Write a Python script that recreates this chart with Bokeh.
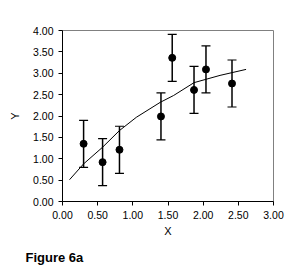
from bokeh.plotting import figure
from bokeh.models import ColumnDataSource, Whisker, TeeHead, Title, NumeralTickFormatter, Range1d
from bokeh.embed import file_html
from bokeh.resources import INLINE

# Data
x_pts = [0.30, 0.57, 0.81, 1.40, 1.56, 1.87, 2.04, 2.41]
y_pts = [1.35, 0.92, 1.21, 1.99, 3.36, 2.61, 3.09, 2.76]
y_err = [0.55, 0.55, 0.55, 0.55, 0.55, 0.55, 0.55, 0.55]

curve_x = [0.10, 0.30, 0.57, 0.81, 1.05, 1.39, 1.58, 1.87, 2.24, 2.61]
curve_y = [0.51, 0.88, 1.27, 1.66, 1.97, 2.32, 2.48, 2.78, 2.95, 3.09]

x_ticks = [0.0, 0.5, 1.0, 1.5, 2.0, 2.5, 3.0]
y_ticks = [0.0, 0.5, 1.0, 1.5, 2.0, 2.5, 3.0, 3.5, 4.0]

FONT = "Liberation Sans"

p = figure(width=306, height=272, output_backend="svg", toolbar_location=None,
           x_range=Range1d(0, 3), y_range=Range1d(0, 4),
           min_border_left=62, min_border_right=33, min_border_top=30, min_border_bottom=71)
p.background_fill_color = "white"
p.border_fill_color = "white"
p.outline_line_color = "#808080"
p.outline_line_width = 1
p.xgrid.visible = False
p.ygrid.visible = False

for ax in (p.xaxis, p.yaxis):
    ax.axis_line_color = "black"
    ax.major_tick_line_color = "black"
    ax.major_tick_out = 4
    ax.major_tick_in = 0
    ax.minor_tick_line_color = None
    ax.major_label_text_font = FONT
    ax.major_label_text_font_size = "10.5px"
    ax.major_label_text_color = "black"
    ax.axis_label_text_font = FONT
    ax.axis_label_text_font_size = "11px"
    ax.axis_label_text_font_style = "normal"
    ax.axis_label_text_color = "black"
    ax.formatter = NumeralTickFormatter(format="0.00")

p.xaxis.ticker = x_ticks
p.yaxis.ticker = y_ticks
p.xaxis.axis_label = "X"
p.yaxis.axis_label = "Y"
p.xaxis.axis_label_standoff = 3
p.yaxis.axis_label_standoff = 9
p.xaxis.major_label_standoff = 5
p.yaxis.major_label_standoff = 5

# fitted curve
p.line(curve_x, curve_y, line_color="black", line_width=1)

# error bars
src = ColumnDataSource(dict(
    x=x_pts, y=y_pts,
    upper=[y + e for y, e in zip(y_pts, y_err)],
    lower=[y - e for y, e in zip(y_pts, y_err)],
))
w = Whisker(base="x", upper="upper", lower="lower", source=src,
            line_color="black", line_width=1.5,
            upper_head=TeeHead(size=9, line_color="black", line_width=1.2),
            lower_head=TeeHead(size=9, line_color="black", line_width=1.2))
p.add_layout(w)

p.scatter("x", "y", source=src, size=7, fill_color="black", line_color="black")

t = Title(text="Figure 6a", align="left", offset=-37, standoff=16,
          text_font=FONT, text_font_size="13px", text_font_style="bold",
          text_color="black")
p.add_layout(t, "below")

open("out.html", "w").write(file_html(p, INLINE))
